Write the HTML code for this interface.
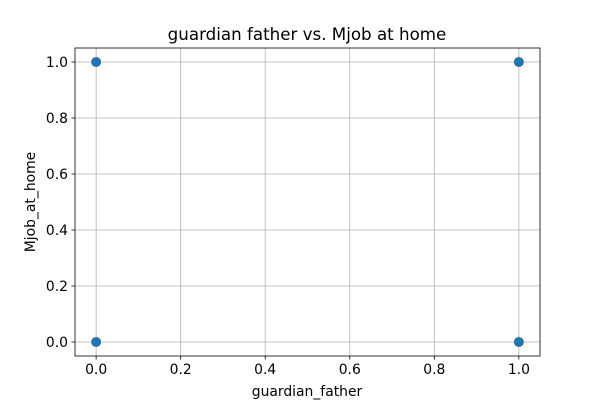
<!DOCTYPE html>
<html><head><meta charset="utf-8"><style>
body{margin:0;background:#fff}
svg text{font-family:"DejaVu Sans","Liberation Sans",sans-serif;fill:#000}
</style></head><body>
<svg id="chart" width="600" height="400">
<rect width="600" height="400" fill="#fff"/>
<g id="grid"></g>
<g id="points"></g>
<rect x="75" y="48" width="465" height="308" fill="none" stroke="#000" stroke-width="0.8"/>
<g id="ticks"></g>
<text x="307" y="40" font-size="16.7" text-anchor="middle">guardian father vs. Mjob at home</text>
<text x="307" y="396" font-size="13.9" text-anchor="middle">guardian_father</text>
<text x="0" y="0" font-size="13.9" text-anchor="middle" transform="translate(35,202) rotate(-90)">Mjob_at_home</text>
</svg>
<script>
const xValues=[0,0,1,1];
const yValues=[0,1,0,1];
const xTicks=[0,0.2,0.4,0.6,0.8,1.0];
const yTicks=[0,0.2,0.4,0.6,0.8,1.0];
const L=75,R=540,T=48,B=356,xmin=-0.05,xmax=1.05,ymin=-0.05,ymax=1.05;
const sx=v=>L+(v-xmin)/(xmax-xmin)*(R-L);
const sy=v=>B-(v-ymin)/(ymax-ymin)*(B-T);
const NS="http://www.w3.org/2000/svg";
const grid=document.getElementById('grid'),ticks=document.getElementById('ticks'),pts=document.getElementById('points');
function mk(tag,attrs,parent){const e=document.createElementNS(NS,tag);for(const k in attrs)e.setAttribute(k,attrs[k]);parent.appendChild(e);return e;}
xTicks.forEach(t=>{
 const x=sx(t);
 const g=mk('line',{x1:x,x2:x,y1:T,y2:B,stroke:'#b0b0b0','stroke-width':0.8},grid);
 
 
 const tk=mk('line',{x1:x,x2:x,y1:B,y2:B+3.5,stroke:'#000','stroke-width':0.8},ticks);
 
 
 const tx=mk('text',{x:x,y:B+18,'font-size':13.9,'text-anchor':'middle'},ticks);
 tx.textContent=t.toFixed(1);
 
 
});
yTicks.forEach(t=>{
 const y=sy(t);
 const g=mk('line',{x1:L,x2:R,y1:y,y2:y,stroke:'#b0b0b0','stroke-width':0.8},grid);
 
 
 const tk=mk('line',{x1:L-3.5,x2:L,y1:y,y2:y,stroke:'#000','stroke-width':0.8},ticks);
 
 
 const tx=mk('text',{x:L-7,y:y+5,'font-size':13.9,'text-anchor':'end'},ticks);
 tx.textContent=t.toFixed(1);
 
 
});
xValues.forEach((v,i)=>{
 const c=mk('circle',{cx:sx(v),cy:sy(yValues[i]),r:4.5,fill:'#1f77b4',stroke:'#1a5f90','stroke-width':0.8},pts);
 
 
});
</script>
</body></html>
